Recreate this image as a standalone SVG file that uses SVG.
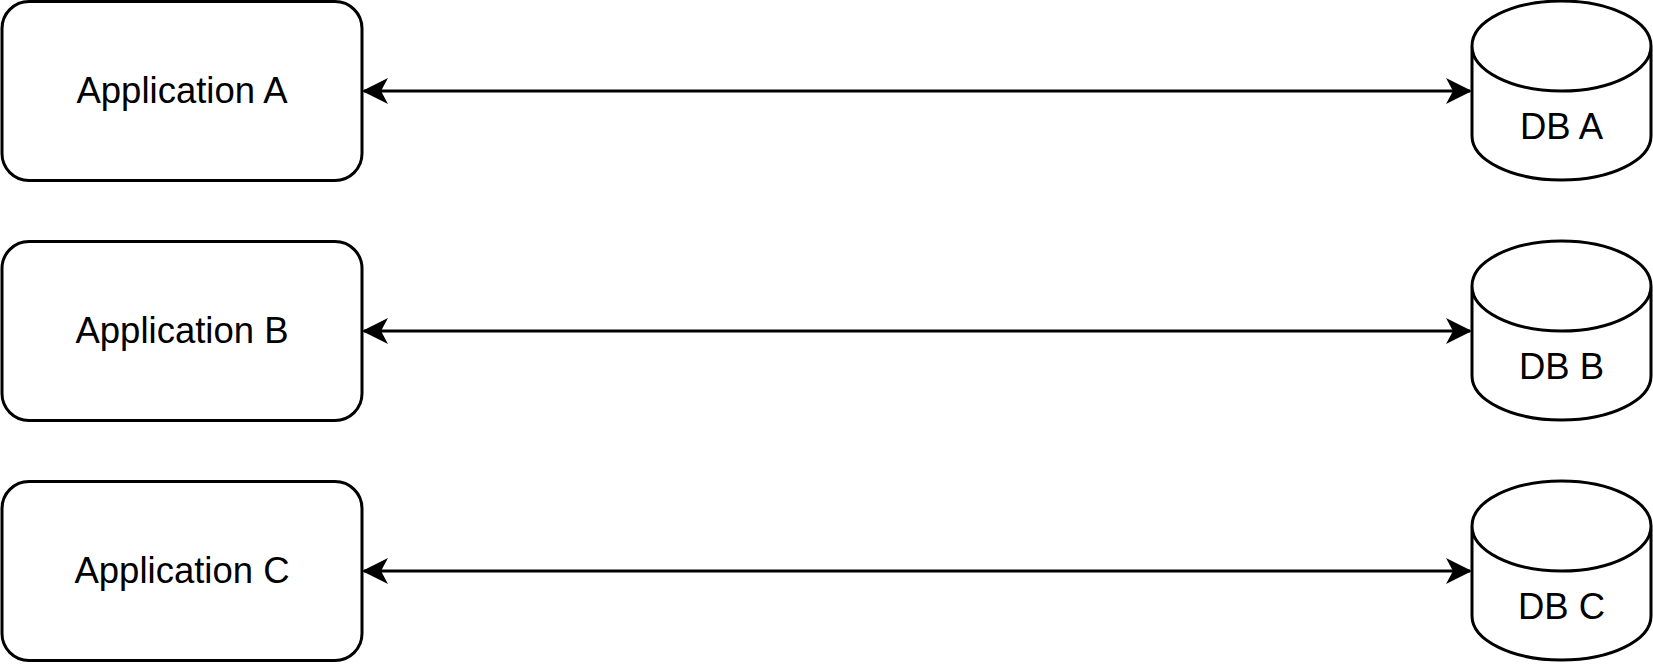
<svg xmlns="http://www.w3.org/2000/svg" width="1653" height="666" viewBox="0 0 1653 666">
<defs>
<style>
.box{fill:#fff;stroke:#000;stroke-width:3}
.lbl{font-family:"Liberation Sans",Arial,sans-serif;font-size:36.5px;fill:#000;text-anchor:middle}
.edge{stroke:#000;stroke-width:3;fill:none;marker-start:url(#ah);marker-end:url(#ah)}
</style>
<marker id="ah" viewBox="0 0 26 26" refX="24" refY="13" markerWidth="26" markerHeight="26" markerUnits="userSpaceOnUse" orient="auto-start-reverse">
<path d="M26,13 L0,0 L7,13 L0,26 Z" fill="#000"/>
</marker>
</defs>
<rect width="1653" height="666" fill="#fff"/>
<g id="connectors">
<line class="edge" x1="364" y1="91" x2="1470" y2="91"/>
<line class="edge" x1="364" y1="331" x2="1470" y2="331"/>
<line class="edge" x1="364" y1="571" x2="1470" y2="571"/>
</g>
<g id="appA"><rect class="box" x="2" y="1.5" width="360" height="179" rx="27"/><text class="lbl" x="182" y="103">Application A</text></g>
<g id="appB"><rect class="box" x="2" y="241.5" width="360" height="179" rx="27"/><text class="lbl" x="182" y="343">Application B</text></g>
<g id="appC"><rect class="box" x="2" y="481.5" width="360" height="179" rx="27"/><text class="lbl" x="182" y="583">Application C</text></g>
<g id="dbA"><path class="box" d="M1472,46 A89.5,45 0 0 1 1651,46 L1651,136 A89.5,44 0 0 1 1472,136 Z M1472,46 A89.5,45 0 0 0 1651,46"/><text class="lbl" x="1561.5" y="139">DB A</text></g>
<g id="dbB"><path class="box" d="M1472,286 A89.5,45 0 0 1 1651,286 L1651,376 A89.5,44 0 0 1 1472,376 Z M1472,286 A89.5,45 0 0 0 1651,286"/><text class="lbl" x="1561.5" y="379">DB B</text></g>
<g id="dbC"><path class="box" d="M1472,526 A89.5,45 0 0 1 1651,526 L1651,616 A89.5,44 0 0 1 1472,616 Z M1472,526 A89.5,45 0 0 0 1651,526"/><text class="lbl" x="1561.5" y="619">DB C</text></g>
</svg>
